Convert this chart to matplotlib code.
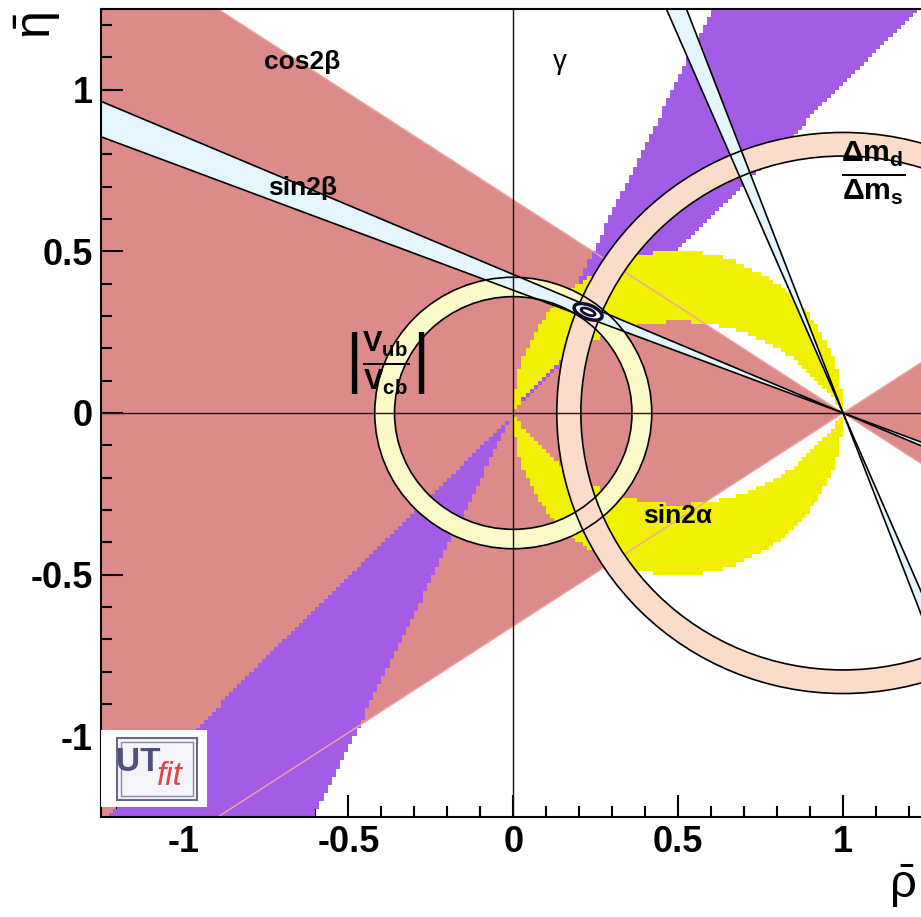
import numpy as np
import matplotlib
matplotlib.use('Agg')
import matplotlib.pyplot as plt
from matplotlib.patches import Polygon, Circle, Ellipse, Rectangle, Wedge
from matplotlib.colors import ListedColormap

# constraints (angles in degrees)
cos2beta_angle = 33.4            # pink double wedge around (1,0)
sin2beta_band = [20.8, 23.2]     # beta band (its pi/2 - beta twin is also drawn)
gamma_band = [45.4, 64.2]        # purple double wedge around (0,0)
alpha_band = [90.0, 121.0]       # yellow crescents
vub_radii = [0.36, 0.42]         # |Vub/Vcb| ring around (0,0)
dm_radii = [0.795, 0.868]        # dmd/dms ring around (1,0)
fit_center = [0.227, 0.313]
fit_sizes = [(0.09, 0.042), (0.045, 0.018)]
fit_angle = -22

x_ticks = [-1, -0.5, 0, 0.5, 1]
x_labels = ['-1', '-0.5', '0', '0.5', '1']
y_ticks = [-1, -0.5, 0, 0.5, 1]
y_labels = ['-1', '-0.5', '0', '0.5', '1']

PINK = '#dc8a8a'
PURPLE = '#a25ce6'
YELLOW = '#f0f000'
BLUE = '#e4f6fc'
CREAM = '#fafac8'
PEACH = '#fbdcca'

plt.rcParams['font.family'] = ['Liberation Sans', 'DejaVu Sans']
plt.rcParams['mathtext.fontset'] = 'custom'
plt.rcParams['mathtext.rm'] = 'Liberation Sans'
plt.rcParams['mathtext.it'] = 'Liberation Sans:italic'
plt.rcParams['mathtext.bf'] = 'Liberation Sans:bold'
plt.rcParams['axes.unicode_minus'] = False

fig = plt.figure(figsize=(9.21, 9.17), dpi=100)
ax = fig.add_axes([101 / 921, 100 / 917, 824.5 / 921, 808 / 917])
ax.set_xlim(-1.25, 1.25)
ax.set_ylim(-1.25, 1.25)

L = 10.0
apex_b = np.array([1.0, 0.0])

# cos2beta: double wedge
c = np.radians(cos2beta_angle)
for s in [-1, 1]:
    tri = [apex_b, apex_b + L * np.array([s * np.cos(c), np.sin(c)]),
           apex_b + L * np.array([s * np.cos(c), -np.sin(c)])]
    ax.add_patch(Polygon(tri, closed=True, facecolor=PINK, edgecolor='none', zorder=1))

# gamma and alpha on a binned grid
step = 0.0125
edges = np.arange(-1.25, 1.25 + step / 2, step)
mid = (edges[:-1] + edges[1:]) / 2
R, E = np.meshgrid(mid, mid)
theta = np.degrees(np.arctan2(E, R))
in_gamma = ((theta >= gamma_band[0]) & (theta <= gamma_band[1])) | \
           ((theta >= gamma_band[0] - 180) & (theta <= gamma_band[1] - 180))
ax.pcolormesh(edges, edges, np.where(in_gamma, 1.0, np.nan),
              cmap=ListedColormap([PURPLE]), vmin=0, vmax=2, zorder=2)

pa = np.hypot(R, E)
pb = np.hypot(1 - R, E)
cosa = ((-R) * (1 - R) + E * E) / np.maximum(pa * pb, 1e-12)
alpha = np.degrees(np.arccos(np.clip(cosa, -1, 1)))
in_alpha = (alpha >= alpha_band[0]) & (alpha <= alpha_band[1])
ax.pcolormesh(edges, edges, np.where(in_alpha, 1.0, np.nan),
              cmap=ListedColormap([YELLOW]), vmin=0, vmax=2, zorder=3)

# faint cos2beta borders seen through the other regions
for s in [-1, 1]:
    d = np.array([np.cos(c), s * np.sin(c)])
    p0, p1 = apex_b - L * d, apex_b + L * d
    ax.plot([p0[0], p1[0]], [p0[1], p1[1]], color='#eea6a0', lw=1, zorder=3.5)

# rings
for (cx, cy), (r0, r1), col in [((0, 0), vub_radii, CREAM), ((1, 0), dm_radii, PEACH)]:
    ax.add_patch(Wedge((cx, cy), r1, 0, 360, width=r1 - r0, facecolor=col,
                       edgecolor='none', zorder=4))
    for r in (r0, r1):
        ax.add_patch(Circle((cx, cy), r, fill=False, edgecolor='black', lw=1.2, zorder=6))

# sin2beta bands (beta and pi/2 - beta)
for band in [sin2beta_band, [90 - sin2beta_band[1], 90 - sin2beta_band[0]]]:
    d1 = np.array([-np.cos(np.radians(band[0])), np.sin(np.radians(band[0]))])
    d2 = np.array([-np.cos(np.radians(band[1])), np.sin(np.radians(band[1]))])
    for s in [-1, 1]:
        tri = [apex_b, apex_b + s * L * d1, apex_b + s * L * d2]
        ax.add_patch(Polygon(tri, closed=True, facecolor=BLUE, edgecolor='none', zorder=5))
    for d in (d1, d2):
        p0, p1 = apex_b - L * d, apex_b + L * d
        ax.plot([p0[0], p1[0]], [p0[1], p1[1]], color='black', lw=1.2, zorder=6)

ax.axhline(0, color='#301010', lw=1, zorder=6.5)
ax.axvline(0, color='#101010', lw=1, zorder=6.5)

# fit result contours
ax.add_patch(Ellipse(fit_center, fit_sizes[0][0], fit_sizes[0][1], angle=fit_angle,
                     facecolor='white', edgecolor='#101030', lw=2.5, zorder=7))
ax.add_patch(Ellipse(fit_center, fit_sizes[1][0], fit_sizes[1][1], angle=fit_angle,
                     facecolor='white', edgecolor='#101030', lw=2, zorder=7))

# labels
lab = dict(fontsize=19, fontweight='bold', ha='center', va='center', zorder=8)
ax.text(-0.64, 1.087, 'cos2β', **lab)
ax.text(-0.64, 0.697, 'sin2β', **lab)
ax.text(0.142, 1.087, 'γ', fontsize=20, ha='center', va='center', zorder=8)
ax.text(0.497, -0.319, 'sin2α', **lab)
ax.text(1.09, 0.743, r'$\frac{\mathbf{\Delta m_d}}{\mathbf{\Delta m_s}}$', fontsize=31,
        ha='center', va='center', zorder=8)
ax.text(-0.388, 0.155, r'$\left|\frac{\mathbf{V_{ub}}}{\mathbf{V_{cb}}}\right|$', fontsize=30,
        ha='center', va='center', zorder=8)

# axes styling
ax.set_xticks(x_ticks, x_labels)
ax.set_yticks(y_ticks, y_labels)
ax.set_xticks(np.arange(-1.2, 1.25, 0.1), minor=True)
ax.set_yticks(np.arange(-1.2, 1.25, 0.1), minor=True)
ax.tick_params(which='both', direction='in', top=False, right=False, width=1.5, colors='black')
ax.tick_params(which='major', length=16, pad=6, labelsize=26)
ax.tick_params(which='minor', length=8)
for t in ax.get_xticklabels() + ax.get_yticklabels():
    t.set_fontweight('bold')
for sp in ax.spines.values():
    sp.set_linewidth(1.5)
    sp.set_zorder(9)

fig.text(38 / 921, 1 - 26 / 917, r'$\bar{\mathrm{\eta}}$', fontsize=36, rotation=90,
         ha='center', va='center')
fig.text(902 / 921, 1 - 886 / 917, r'$\bar{\mathrm{\rho}}$', fontsize=34,
         ha='center', va='center')

# UTfit logo
ax.add_patch(Rectangle((0.0, 0.012), 0.129, 0.096, transform=ax.transAxes,
                       facecolor='white', edgecolor='none', zorder=10))
ax.add_patch(Rectangle((0.019, 0.021), 0.098, 0.077, transform=ax.transAxes,
                       facecolor='#f4f4fa', edgecolor='#6a6a88', lw=1.5, zorder=10.5))
ax.add_patch(Rectangle((0.024, 0.026), 0.088, 0.067, transform=ax.transAxes,
                       fill=False, edgecolor='#8a8aa0', lw=1, zorder=10.5))
ax.text(0.045, 0.068, 'UT', transform=ax.transAxes, fontsize=24, fontweight='bold',
        color='#50507a', ha='center', va='center', zorder=11)
ax.text(0.084, 0.05, 'fit', transform=ax.transAxes, fontsize=24, style='italic',
        color='#e04848', ha='center', va='center', zorder=11)

fig.savefig('out.png', dpi=100)
